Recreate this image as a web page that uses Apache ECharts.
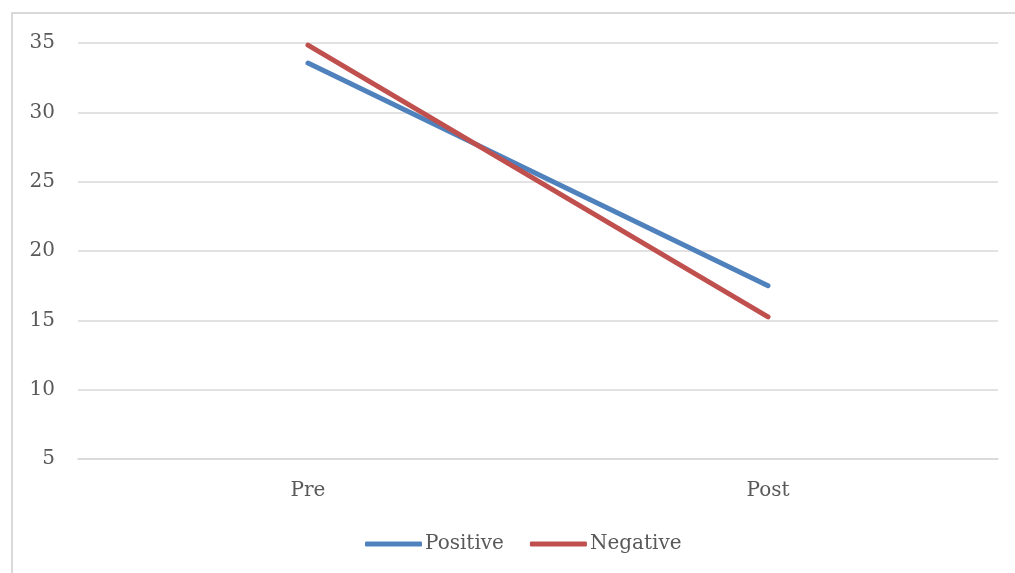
<!DOCTYPE html>
<html>
<head>
<meta charset="utf-8">
<script src="https://cdn.jsdelivr.net/npm/echarts@6/dist/echarts.min.js"></script>
<style>
  html, body { margin: 0; padding: 0; background: #fff; }
  #chart { width: 1015px; height: 573px; }
</style>
</head>
<body>
<div id="chart"></div>
<script>
// Phases on the category axis
const categories = ['Pre', 'Post'];
// Mean scores per group
const positiveValues = [33.55, 17.5];
const negativeValues = [34.85, 15.25];
// Value axis range
const yMin = 5;
const yMax = 35;
const yStep = 5;

const font = '"DejaVu Serif", serif';
const chart = echarts.init(document.getElementById('chart'));

chart.setOption({
  backgroundColor: '#ffffff',
  animation: false,
  graphic: [{
    type: 'rect',
    shape: { x: 12, y: 13, width: 1010, height: 600 },
    style: { fill: 'none', stroke: '#d9d9d9', lineWidth: 2 },
    silent: true
  }],
  grid: { left: 78, right: 17, top: 43, bottom: 114, containLabel: false },
  xAxis: {
    type: 'category',
    data: categories,
    boundaryGap: true,
    axisLine: { show: true, lineStyle: { color: '#d9d9d9', width: 1.5 } },
    axisTick: { show: false },
    axisLabel: { color: '#595959', fontFamily: font, fontSize: 20, margin: 22 }
  },
  yAxis: {
    type: 'value',
    min: yMin,
    max: yMax,
    interval: yStep,
    axisLine: { show: false },
    axisTick: { show: false },
    axisLabel: { color: '#595959', fontFamily: font, fontSize: 20, margin: 23 },
    splitLine: { lineStyle: { color: '#d9d9d9', width: 1.5 } }
  },
  legend: {
    bottom: 14,
    left: 360,
    padding: [5, 5, 5, 5],
    itemWidth: 57,
    itemHeight: 5,
    itemGap: 26,
    icon: 'roundRect',
    textStyle: { color: '#595959', fontFamily: font, fontSize: 20, padding: [0, 0, 0, -2] },
    data: ['Positive', 'Negative']
  },
  series: [
    {
      name: 'Positive',
      type: 'line',
      data: positiveValues,
      symbol: 'none',
      itemStyle: { color: '#4f81bd' },
      lineStyle: { color: '#4f81bd', width: 5, cap: 'round' }
    },
    {
      name: 'Negative',
      type: 'line',
      data: negativeValues,
      symbol: 'none',
      itemStyle: { color: '#c0504d' },
      lineStyle: { color: '#c0504d', width: 5, cap: 'round' }
    }
  ]
});
</script>
</body>
</html>
